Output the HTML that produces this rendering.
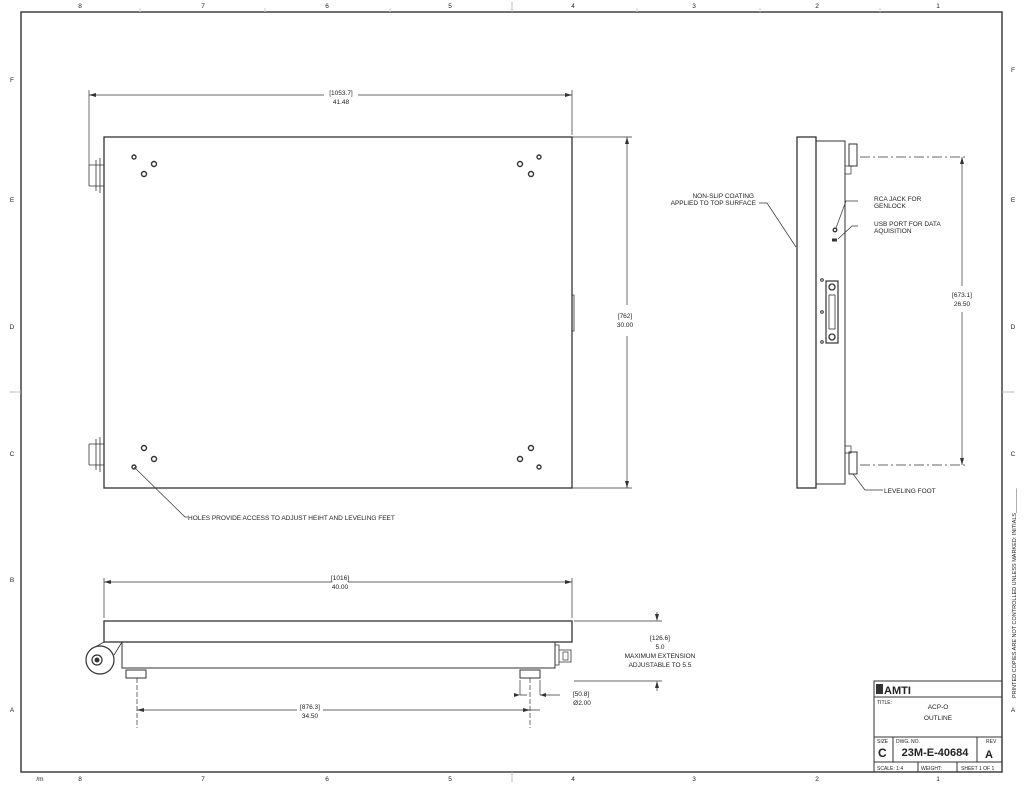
<!DOCTYPE html>
<html><head><meta charset="utf-8"><style>
html,body{margin:0;padding:0;background:#fff}
svg{display:block}
text{font-family:"Liberation Sans",sans-serif;fill:#222}
</style></head><body>
<svg width="1024" height="789" viewBox="0 0 1024 789" xmlns="http://www.w3.org/2000/svg">
<g stroke="#333" fill="none" stroke-width="1">
<rect x="21" y="12" width="981" height="760" stroke-width="1.4"/>
<path d="M512 2v10M512 772v10M10 392h11M1002 392h12" stroke="#bbb"/>
<path d="M140 12v-4M265 12v-4M390 12v-4M637 12v-4M760 12v-4M880 12v-4" stroke="#ccc"/>

<!-- TOP VIEW -->
<rect x="104" y="137" width="468" height="351" stroke-width="1.3"/>
<path d="M572 295h2v36h-2" stroke-width="0.8"/>
<path d="M89 90v75M572 90v45" stroke-width="0.7"/>
<path d="M89 95h235M358 95h214" stroke-width="0.7"/>
<path d="M572 137h60M572 488h60M627 137v168M627 336v152" stroke-width="0.7"/>
<path d="M89 165h15M89 186h15M89 165v21M96 160v31M100 158v35" stroke-width="0.8"/>
<path d="M89 444h15M89 465h15M89 444v21M96 439v31M100 437v35" stroke-width="0.8"/>
<g stroke-width="1.4">
<circle cx="134" cy="157" r="2"/><circle cx="154" cy="164" r="2.5"/><circle cx="144" cy="174" r="2.5"/>
<circle cx="539" cy="157" r="2"/><circle cx="520" cy="164" r="2.5"/><circle cx="531" cy="174" r="2.5"/>
<circle cx="144" cy="448" r="2.5"/><circle cx="154" cy="459" r="2.5"/><circle cx="134" cy="467" r="2"/>
<circle cx="531" cy="448" r="2.5"/><circle cx="520" cy="459" r="2.5"/><circle cx="539" cy="467" r="2"/>
</g>
<path d="M134 467L185 517h3" stroke-width="0.7"/>

<!-- SIDE VIEW -->
<rect x="797" y="137" width="19" height="351" stroke-width="1.3"/>
<rect x="816" y="141" width="29" height="343" stroke-width="1"/>
<path d="M845 145v336" stroke-width="0.6"/>
<rect x="849" y="144" width="8" height="22" stroke-width="1"/>
<rect x="849" y="452" width="8" height="22" stroke-width="1"/>
<path d="M845 166h6v8h-6M845 446h6v7h-6" stroke-width="0.7"/>
<path d="M860 157h108M860 465h108" stroke-width="0.7" stroke-dasharray="10 3 2 3"/>
<path d="M962 157v129M962 312v153" stroke-width="0.7"/>
<rect x="826" y="281" width="12" height="62" stroke-width="1.2"/>
<rect x="829" y="295" width="6" height="34" stroke-width="0.8"/>
<circle cx="832" cy="287" r="3" stroke-width="1.3"/><circle cx="832" cy="337" r="3" stroke-width="1.3"/>
<circle cx="822" cy="280" r="1.3"/><circle cx="822" cy="312" r="1.3"/><circle cx="822" cy="342" r="1.3"/>
<circle cx="835" cy="230" r="1.8" stroke-width="1.3"/>
<path d="M832 240h5" stroke-width="3"/>
<path d="M836 228l10-27h12M838 239l14-13h6" stroke-width="0.7"/>
<path d="M796 247L767 203h-8" stroke-width="0.7"/>
<path d="M853 474l12 16h18" stroke-width="0.7"/>

<!-- BOTTOM VIEW -->
<rect x="104" y="621" width="468" height="21" stroke-width="1.3"/>
<rect x="122" y="642" width="433" height="26" stroke-width="1"/>
<path d="M555 645h4v20h-4M559 650h12v12h-12" stroke-width="0.8"/>
<rect x="563" y="652" width="5" height="8" stroke-width="0.7"/>
<circle cx="100" cy="660" r="14" stroke-width="1.2"/>
<circle cx="97" cy="660" r="5" stroke-width="1.2"/>
<circle cx="97" cy="660" r="2" fill="#333"/>
<path d="M104 642L97 646M114 655L122 642" stroke-width="0.8"/>
<rect x="126" y="670" width="20" height="8" stroke-width="1"/>
<rect x="520" y="670" width="20" height="8" stroke-width="1"/>
<path d="M137 678v50M530 678v50" stroke-width="0.7" stroke-dasharray="5 2"/>
<path d="M104 578v40M572 578v40" stroke-width="0.7"/>
<path d="M104 582h228M348 582h224" stroke-width="0.7"/>
<path d="M137 710h160M323 710h217" stroke-width="0.7"/>
<path d="M574 621h88M574 681h88M657 612v8M657 683v8" stroke-width="0.7"/>
<path d="M520 695h7M540 695h20M540 680v15M520 680v15" stroke-width="0.7"/>

<!-- TITLE BLOCK -->
<rect x="874" y="681" width="128" height="91"/>
<path d="M874 697h128M874 737h128M874 762h128M893 737v25M977 737v25M918 762v10M957 762v10"/>
</g>

<g fill="#333" stroke="none">
<path d="M89 95l7-2v4zM572 95l-7-2v4zM627 137l-2 7h4zM627 488l-2-7h4zM962 157l-2 7h4zM962 465l-2-7h4zM104 582l7-2v4zM572 582l-7-2v4zM137 710l7-2v4zM530 710l-7-2v4zM657 621l-2-7h4zM657 681l-2 7h4zM540 695l6-2v4zM520 695l-6-2v4z"/>
<rect x="876" y="684" width="7" height="10"/>
</g>

<g font-size="6.5" text-anchor="middle">
<text x="80" y="8">8</text><text x="203" y="8">7</text><text x="327" y="8">6</text><text x="450" y="8">5</text><text x="573" y="8">4</text><text x="694" y="8">3</text><text x="817" y="8">2</text><text x="938" y="8">1</text>
<text x="80" y="781">8</text><text x="203" y="781">7</text><text x="327" y="781">6</text><text x="450" y="781">5</text><text x="573" y="781">4</text><text x="694" y="781">3</text><text x="817" y="781">2</text><text x="938" y="781">1</text>
<text x="40" y="781">/m</text>
<text x="12" y="82">F</text><text x="12" y="202">E</text><text x="12" y="329">D</text><text x="12" y="456">C</text><text x="12" y="582">B</text><text x="12" y="712">A</text>
<text x="1013" y="72">F</text><text x="1013" y="202">E</text><text x="1013" y="329">D</text><text x="1013" y="456">C</text><text x="1013" y="712">A</text>
<text x="341" y="95">[1053.7]</text><text x="341" y="104">41.48</text>
<text x="625" y="318">[762]</text><text x="625" y="327">30.00</text>
<text x="962" y="297">[673.1]</text><text x="962" y="306">26.50</text>
<text x="340" y="580">[1016]</text><text x="340" y="589">40.00</text>
<text x="310" y="709">[876.3]</text><text x="310" y="718">34.50</text>
<text x="660" y="640">[126.6]</text><text x="660" y="649">5.0</text>
<text x="660" y="658">MAXIMUM EXTENSION</text><text x="660" y="667">ADJUSTABLE TO 5.5</text>
<text x="581" y="696">[50.8]</text><text x="582" y="705">Ø2.00</text>
<text x="938" y="709">ACP-O</text><text x="938" y="720">OUTLINE</text>
</g>
<g font-size="6.5">
<text x="188" y="520">HOLES PROVIDE ACCESS TO ADJUST HEIHT AND LEVELING FEET</text>
<text x="754" y="198" text-anchor="end">NON-SLIP COATING</text>
<text x="756" y="205" text-anchor="end">APPLIED TO TOP SURFACE</text>
<text x="874" y="201">RCA JACK FOR</text><text x="874" y="208">GENLOCK</text>
<text x="874" y="226">USB PORT FOR DATA</text><text x="874" y="233">AQUISITION</text>
<text x="884" y="493">LEVELING FOOT</text>
<text x="877" y="704" font-size="5">TITLE:</text>
<text x="877" y="743" font-size="5">SIZE</text><text x="896" y="743" font-size="5">DWG. NO.</text><text x="986" y="743" font-size="5">REV</text>
<text x="877" y="770" font-size="5">SCALE: 1:4</text><text x="921" y="770" font-size="5">WEIGHT:</text><text x="961" y="770" font-size="5">SHEET 1 OF 1</text>
<text x="1016" y="698" font-size="5.5" transform="rotate(-90 1016 698)">PRINTED COPIES ARE NOT CONTROLLED UNLESS MARKED: INITIALS________</text>
</g>
<text x="884" y="694" font-size="11" font-weight="bold">AMTI</text>
<text x="878" y="757" font-size="12" font-weight="bold">C</text>
<text x="935" y="756" font-size="11" font-weight="bold" text-anchor="middle">23M-E-40684</text>
<text x="989" y="758" font-size="11" font-weight="bold" text-anchor="middle">A</text>
</svg>
</body></html>
